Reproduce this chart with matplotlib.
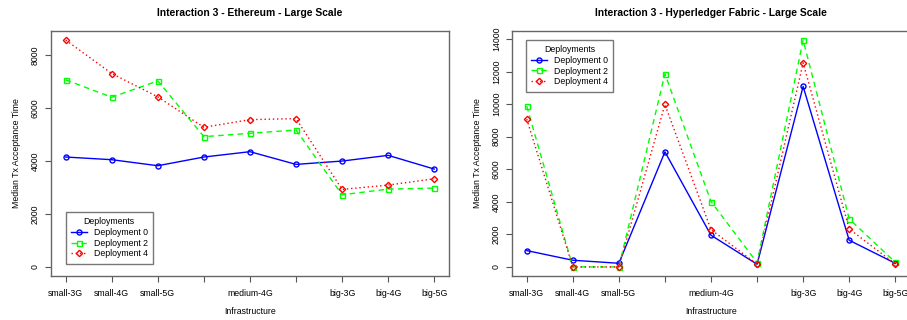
import matplotlib
matplotlib.use("Agg")
import matplotlib.pyplot as plt

plt.rcParams["font.family"] = ["Liberation Sans", "DejaVu Sans"]

# Infrastructure categories (4th and 6th labels are dropped on the axis, as in R)
categories = ["small-3G", "small-4G", "small-5G", "medium-3G", "medium-4G",
              "medium-5G", "big-3G", "big-4G", "big-5G"]
tick_labels = ["small-3G", "small-4G", "small-5G", "", "medium-4G",
               "", "big-3G", "big-4G", "big-5G"]

# Ethereum medians
eth_d0 = [4144, 4043, 3816, 4144, 4345, 3866, 3992, 4207, 3690]
eth_d2 = [7053, 6398, 7015, 4912, 5038, 5164, 2720, 2934, 2972]
eth_d4 = [8552, 7292, 6411, 5264, 5554, 5592, 2922, 3086, 3325]

# Hyperledger Fabric medians
hlf_d0 = [1004, 410, 225, 7070, 1947, 164, 11086, 1639, 225]
hlf_d2 = [9877, 0, 0, 11865, 4016, 266, 13934, 2951, 287]
hlf_d4 = [9078, 0, 0, 9980, 2295, 164, 12541, 2336, 184]

series_names = ["Deployment 0", "Deployment 2", "Deployment 4"]
colors = ["#0000FF", "#00FF00", "#FF0000"]
styles = ["-", (0, (4, 3)), (0, (1, 2))]
markers = ["o", "s", "D"]

FS = 6.3


def draw(ax, data, title, yticks, legend_loc, anchor):
    x = list(range(1, len(categories) + 1))
    for vals, name, c, ls, m in zip(data, series_names, colors, styles, markers):
        ax.plot(x, vals, color=c, linestyle=ls, linewidth=1.0, marker=m,
                markersize=3.6 if m != "D" else 3.2, markerfacecolor="none",
                markeredgewidth=1.0, label=name)
    ymax = max(max(v) for v in data)
    pad = ymax * 0.04
    ax.set_ylim(-pad, ymax + pad)
    ax.set_xlim(1 - 0.32, len(categories) + 0.32)
    ax.set_xticks(x)
    ax.set_xticklabels(tick_labels, fontsize=FS)
    ax.set_yticks(yticks)
    ax.set_yticklabels([str(t) for t in yticks], rotation=90, va="center",
                       fontsize=FS)
    ax.tick_params(length=4, color="#555555", width=0.8)
    ax.tick_params(axis="x", pad=5)
    ax.tick_params(axis="y", pad=4)
    for s in ax.spines.values():
        s.set_color("#666666")
        s.set_linewidth(1.0)
    ax.set_title(title, fontsize=7.4, fontweight="bold", pad=11)
    ax.set_xlabel("Infrastructure", fontsize=FS, labelpad=7)
    ax.set_ylabel("Median Tx Acceptance Time", fontsize=FS, labelpad=7)
    leg = ax.legend(title="Deployments", loc=legend_loc, fontsize=FS,
                    title_fontsize=FS, fancybox=False, edgecolor="#777777",
                    framealpha=1, handlelength=1.8, handletextpad=0.8,
                    borderpad=0.6, borderaxespad=0.3, labelspacing=0.2,
                    bbox_to_anchor=anchor, bbox_transform=ax.transAxes)
    leg.get_frame().set_linewidth(1.0)


fig = plt.figure(figsize=(9.07, 3.2), dpi=100)
ax1 = fig.add_axes([0.0562, 0.1375, 0.4388, 0.7655])
ax2 = fig.add_axes([0.5645, 0.1375, 0.4388, 0.7655])

draw(ax1, [eth_d0, eth_d2, eth_d4], "Interaction 3 - Ethereum - Large Scale",
     [0, 2000, 4000, 6000, 8000], "lower left", (0.03, 0.04))

draw(ax2, [hlf_d0, hlf_d2, hlf_d4], "Interaction 3 - Hyperledger Fabric - Large Scale",
     list(range(0, 14001, 2000)), "upper left", (0.028, 0.975))

fig.savefig("out.png", dpi=100)
